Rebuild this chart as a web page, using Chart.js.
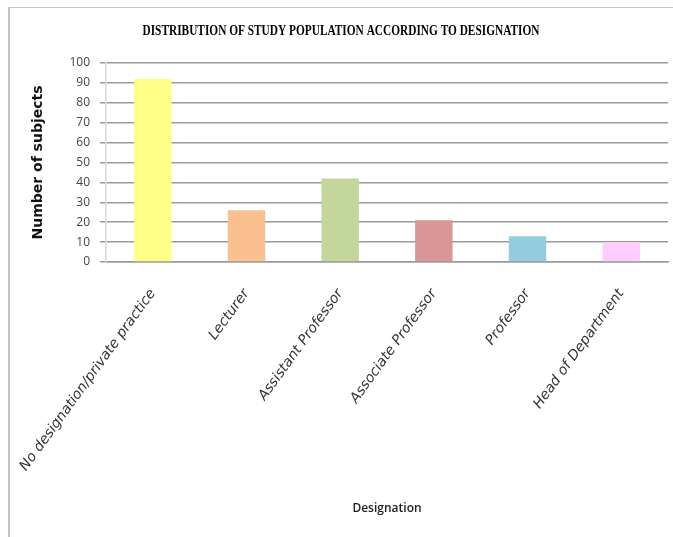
<!DOCTYPE html>
<html>
<head>
<meta charset="utf-8">
<script src="https://cdn.jsdelivr.net/npm/chart.js@4/dist/chart.umd.min.js"></script>
<style>
  html, body { margin: 0; padding: 0; background: #fff; }
  #wrap { position: relative; width: 673px; height: 537px; overflow: hidden; }
  #frameL { position: absolute; left: 8px; top: 7px; width: 2px; height: 530px; background: #c4c4c4; }
  #frameT { position: absolute; left: 8px; top: 7px; width: 665px; height: 1px; background: #c4c4c4; }
  canvas { position: absolute; left: 0; top: 0; }
</style>
</head>
<body>
<div id="wrap">
  <canvas id="c" width="673" height="537"></canvas>
  <div id="frameL"></div>
  <div id="frameT"></div>
</div>
<script>
const chartTitle = "DISTRIBUTION OF STUDY POPULATION ACCORDING TO DESIGNATION";
const categories = ["No designation/private practice", "Lecturer", "Assistant Professor", "Associate Professor", "Professor", "Head of Department"];
const subjects = [92, 26, 42, 21, 13, 10];
const barColors = ["#FFFF88", "#FAC090", "#C3D69B", "#D99694", "#93CDDD", "#FFCCFF"];
const yTitle = "Number of subjects";
const xTitle = "Designation";
const yMin = 0, yMax = 100, yStep = 10;

const condensedTitle = {
  id: 'condensedTitle',
  afterDraw(chart) {
    const ctx = chart.ctx;
    ctx.save();
    ctx.font = "bold 14px 'Liberation Serif', 'Times New Roman', serif";
    ctx.fillStyle = "#000";
    ctx.textAlign = "center";
    ctx.textBaseline = "middle";
    const w = ctx.measureText(chartTitle).width;
    const targetW = 397;
    const s = targetW / w;
    ctx.translate(341, 31);
    ctx.scale(s, 1);
    ctx.fillText(chartTitle, 0, 0);
    ctx.restore();
  }
};

new Chart(document.getElementById('c'), {
  type: 'bar',
  data: {
    labels: categories,
    datasets: [{
      data: subjects,
      backgroundColor: barColors,
      borderWidth: 0,
      barPercentage: 0.4,
      categoryPercentage: 1.0
    }]
  },
  options: {
    responsive: false,
    animation: false,
    devicePixelRatio: 1,
    layout: { padding: { top: 63, left: 0, right: 5, bottom: 0 } },
    plugins: {
      legend: { display: false },
      title: { display: false },
      tooltip: { enabled: false }
    },
    scales: {
      x: {
        afterFit(scale) { scale.height = 275; scale.paddingLeft = 0; scale.paddingRight = 0; },
        grid: { display: false, drawTicks: false },
        border: { display: true, color: '#9a9a9a', width: 1.5 },
        ticks: {
          minRotation: 54, maxRotation: 54,
          padding: 24,
          color: '#333',
          font: { family: "'DejaVu Sans', sans-serif", size: 14, style: 'italic' },
          autoSkip: false
        },
        title: {
          display: true, text: xTitle, color: '#222',
          font: { family: "'Open Sans', sans-serif", size: 12, weight: '600' },
          padding: { top: 0, bottom: 21 }
        }
      },
      y: {
        min: yMin, max: yMax,
        afterFit(scale) { scale.width = 106; },
        grid: { color: '#9a9a9a', lineWidth: 1.5, tickLength: 6, tickColor: '#9a9a9a' },
        border: { display: true, color: '#d8d8d8', width: 1.5 },
        ticks: {
          stepSize: yStep, padding: 10, color: '#444',
          font: { family: "'Open Sans', sans-serif", size: 12 }
        },
        title: {
          display: true, text: yTitle, color: '#111',
          font: { family: "'DejaVu Sans', sans-serif", size: 14, weight: 'bold' },
          padding: { top: 30, bottom: 0 }
        }
      }
    }
  },
  plugins: [condensedTitle]
});
</script>
</body>
</html>
